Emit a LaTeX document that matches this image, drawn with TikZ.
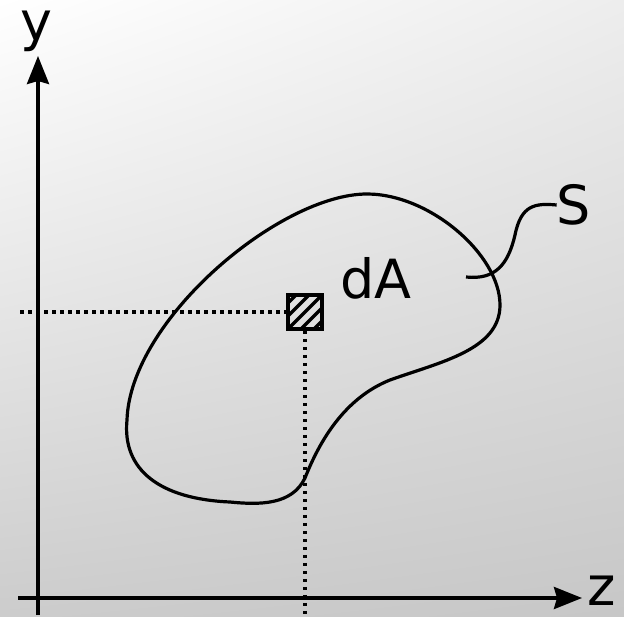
\documentclass[tikz,border=0pt]{standalone}
\usepackage{fontspec}
\setmainfont{DejaVu Sans}
\usetikzlibrary{arrows.meta,shadings,calc}
\begin{document}
\begin{tikzpicture}[x=1pt,y=-1pt,
  axis/.style={line width=3.5pt,-{Stealth[length=28pt,width=22pt,inset=3pt]}},
  guide/.style={line width=3.5pt,dash pattern=on 3.5pt off 4.5pt},
  curve/.style={line width=3.2pt},
  lbl/.style={font=\fontsize{54}{60}\selectfont,inner sep=0pt}]
\shade[upper left=white,upper right=black!7,lower left=black!20,lower right=black!22]
  (0,0) rectangle (624,616);
\useasboundingbox (0,0) rectangle (624,616);
% axes
\coordinate (ybot) at (38,615);
\coordinate (ytop) at (38,56);
\coordinate (xleft) at (18,598);
\coordinate (xright) at (582,598);
\draw[axis] (ybot) -- (ytop);
\draw[axis] (xleft) -- (xright);
\node[lbl] (ylab) at (36,31) {y};
\node[lbl] (zlab) at (602,591) {z};
% element
\node[draw,line width=3.5pt,minimum size=34pt,inner sep=0pt] (dA) at (305,312) {};
\begin{scope}
\clip (dA.south west) rectangle (dA.north east);
\foreach \d in {-39,-26,...,39}
  \draw[line width=3.5pt] ($(dA.center)+(\d-30,30)$) -- ++(60,-60);
\end{scope}
\coordinate (hl) at (20,312);
\coordinate (vb) at (305,615);
\draw[guide] (hl) -- (dA.west);
\draw[guide] (dA.south) -- (vb);
% region
\draw[curve] (367,194) .. controls (430,194) and (500,255) .. (500,305)
  .. controls (500,350) and (440,362) .. (390,380)
  .. controls (345,398) and (320,440) .. (305,478)
  .. controls (292,505) and (260,505) .. (230,502)
  .. controls (160,499) and (122,470) .. (127,420)
  .. controls (130,320) and (280,194) .. cycle;
\node[lbl] (dAlab) at (376,278) {dA};
\node[lbl] (Slab) at (574,205) {S};
\coordinate (s0) at (466,277);
\draw[curve] (s0) .. controls (495,280) and (508,265) .. (515,235)
  .. controls (521,205) and (535,203) .. (Slab.west);
\end{tikzpicture}
\end{document}
